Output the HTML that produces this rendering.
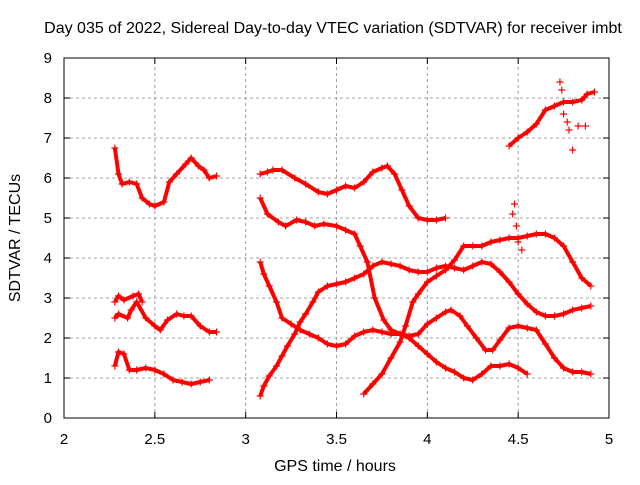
<!DOCTYPE html>
<html><head><meta charset="utf-8"><style>
body{margin:0;background:#fff;}
svg text{font-family:"Liberation Sans",sans-serif;font-size:15px;fill:#000;}
svg text.big{font-size:16px;}
</style></head><body>
<svg id="chart" width="640" height="480" xmlns="http://www.w3.org/2000/svg">
<rect width="640" height="480" fill="#fff"/>
<g id="grid"></g>
<g id="marks"></g>
<rect x="64" y="58" width="545" height="360" fill="none" stroke="#000" stroke-width="1"/>
<g id="ticks"></g>
<text class="big" x="333" y="33" text-anchor="middle">Day 035 of 2022, Sidereal Day-to-day VTEC variation (SDTVAR) for receiver imbt</text>
<text class="big" x="335" y="471" text-anchor="middle">GPS time / hours</text>
<text class="big" x="0" y="0" text-anchor="middle" transform="translate(20,238) rotate(-90)">SDTVAR / TECUs</text>
</svg>
<script>
const xTicks=[2,2.5,3,3.5,4,4.5,5];
const xTickLabels=["2","2.5","3","3.5","4","4.5","5"];
const yTicks=[0,1,2,3,4,5,6,7,8,9];
const yTickLabels=["0","1","2","3","4","5","6","7","8","9"];
const trackA=[[2.28,6.75],[2.3,6.1],[2.32,5.85],[2.36,5.9],[2.4,5.85],[2.43,5.5],[2.47,5.35],[2.5,5.3],[2.55,5.4],[2.58,5.9],[2.62,6.1],[2.67,6.35],[2.7,6.5],[2.74,6.3],[2.77,6.2],[2.8,6.0],[2.84,6.05]];
const trackB=[[2.28,2.5],[2.3,2.6],[2.35,2.5],[2.37,2.7],[2.4,2.9],[2.45,2.5],[2.5,2.3],[2.53,2.2],[2.57,2.45],[2.62,2.6],[2.66,2.55],[2.7,2.55],[2.75,2.3],[2.8,2.15],[2.84,2.15]];
const trackC=[[2.28,2.9],[2.3,3.05],[2.33,2.95],[2.38,3.05],[2.41,3.1],[2.43,2.9]];
const trackD=[[2.28,1.3],[2.3,1.65],[2.33,1.6],[2.36,1.2],[2.4,1.2],[2.45,1.25],[2.5,1.2],[2.55,1.1],[2.6,0.95],[2.65,0.9],[2.7,0.85],[2.75,0.9],[2.8,0.95]];
const trackE=[[3.08,6.1],[3.12,6.15],[3.15,6.2],[3.2,6.2],[3.27,6.0],[3.33,5.85],[3.4,5.65],[3.45,5.6],[3.5,5.7],[3.55,5.8],[3.6,5.75],[3.65,5.9],[3.7,6.15],[3.75,6.25],[3.78,6.3],[3.82,6.1],[3.86,5.7],[3.9,5.3],[3.95,5.0],[4.0,4.95],[4.05,4.95],[4.1,5.0]];
const trackF=[[3.08,5.5],[3.12,5.1],[3.18,4.9],[3.22,4.8],[3.28,4.95],[3.33,4.9],[3.38,4.8],[3.43,4.85],[3.5,4.8],[3.55,4.7],[3.6,4.6],[3.63,4.3],[3.67,3.9],[3.71,3.0],[3.76,2.45],[3.8,2.2],[3.85,2.1],[3.9,2.0],[3.95,1.8],[4.0,1.6],[4.05,1.4],[4.1,1.25],[4.15,1.15],[4.2,1.0],[4.25,0.95],[4.3,1.1],[4.35,1.3],[4.4,1.3],[4.45,1.35],[4.5,1.25],[4.55,1.1]];
const trackG=[[3.08,3.9],[3.1,3.6],[3.13,3.3],[3.17,2.9],[3.2,2.5],[3.25,2.35],[3.3,2.2],[3.35,2.1],[3.4,2.0],[3.45,1.85],[3.5,1.8],[3.55,1.85],[3.6,2.05],[3.65,2.15],[3.7,2.2],[3.75,2.15],[3.8,2.1],[3.85,2.1],[3.9,2.05],[3.95,2.1],[4.0,2.35],[4.05,2.5],[4.1,2.65],[4.13,2.7],[4.18,2.55],[4.22,2.3],[4.27,2.0],[4.32,1.7],[4.36,1.7],[4.4,1.95],[4.45,2.25],[4.5,2.3],[4.55,2.25],[4.6,2.2],[4.65,1.85],[4.7,1.5],[4.75,1.25],[4.8,1.15],[4.85,1.15],[4.9,1.1]];
const trackH=[[3.08,0.55],[3.1,0.8],[3.13,1.05],[3.17,1.3],[3.2,1.55],[3.23,1.8],[3.27,2.1],[3.3,2.4],[3.33,2.6],[3.37,2.9],[3.4,3.15],[3.45,3.3],[3.5,3.35],[3.55,3.4],[3.6,3.5],[3.65,3.6],[3.7,3.8],[3.75,3.9],[3.8,3.85],[3.85,3.8],[3.9,3.7],[3.95,3.65],[4.0,3.65],[4.05,3.75],[4.1,3.8],[4.15,3.75],[4.2,3.7],[4.25,3.8],[4.3,3.9],[4.35,3.85],[4.4,3.65],[4.45,3.4],[4.5,3.1],[4.55,2.85],[4.6,2.65],[4.65,2.55],[4.7,2.55],[4.75,2.6],[4.8,2.7],[4.85,2.75],[4.9,2.8]];
const trackI=[[3.65,0.6],[3.7,0.85],[3.75,1.1],[3.8,1.5],[3.85,1.9],[3.88,2.3],[3.92,2.9],[3.95,3.1],[4.0,3.4],[4.05,3.55],[4.1,3.7],[4.15,3.95],[4.2,4.3],[4.25,4.3],[4.3,4.3],[4.35,4.4],[4.4,4.45],[4.45,4.5],[4.5,4.5],[4.55,4.55],[4.6,4.6],[4.65,4.6],[4.7,4.5],[4.75,4.3],[4.8,3.9],[4.85,3.5],[4.9,3.3]];
const trackJ=[[4.45,6.8],[4.5,7.0],[4.55,7.15],[4.6,7.35],[4.65,7.7],[4.7,7.8],[4.75,7.9],[4.8,7.9],[4.85,7.95],[4.88,8.1],[4.92,8.15]];
const outliers=[[4.73,8.4],[4.74,8.2],[4.75,7.6],[4.77,7.4],[4.78,7.2],[4.8,6.7],[4.83,7.3],[4.87,7.3],[4.48,5.35],[4.47,5.1],[4.49,4.8],[4.5,4.4],[4.52,4.2]];
const tracks=[trackA,trackB,trackC,trackD,trackE,trackF,trackG,trackH,trackI,trackJ];

const NS="http://www.w3.org/2000/svg";
const X0=64,X1=609,Y0=418,Y1=58;
function sx(v){return X0+(v-2)/(5-2)*(X1-X0);}
function sy(v){return Y0-(v-0)/(9-0)*(Y0-Y1);}
function mk(tag,attrs,parent){const e=document.createElementNS(NS,tag);for(const k in attrs)e.setAttribute(k,attrs[k]);parent.appendChild(e);return e;}
const grid=document.getElementById('grid'),ticks=document.getElementById('ticks'),marks=document.getElementById('marks');
xTicks.forEach((t,i)=>{
  const x=sx(t);
  if(i>0&&i<xTicks.length-1){const g=mk('line',{x1:x,x2:x,y1:Y0,y2:Y1,stroke:'#a0a0a0','stroke-dasharray':'3,3'},grid);
  
  }
  mk('line',{x1:x,x2:x,y1:Y0,y2:Y0-6,stroke:'#000'},ticks);
  mk('line',{x1:x,x2:x,y1:Y1,y2:Y1+6,stroke:'#000'},ticks);
  const tx=mk('text',{x:x,y:Y0+26,'text-anchor':'middle'},ticks);tx.textContent=xTickLabels[i];
  
  
});
yTicks.forEach((t,i)=>{
  const y=sy(t);
  if(i>0&&i<yTicks.length-1){const g=mk('line',{x1:X0,x2:X1,y1:y,y2:y,stroke:'#a0a0a0','stroke-dasharray':'3,3'},grid);
  
  }
  mk('line',{x1:X0,x2:X0+6,y1:y,y2:y,stroke:'#000'},ticks);
  mk('line',{x1:X1,x2:X1-6,y1:y,y2:y,stroke:'#000'},ticks);
  const tx=mk('text',{x:X0-12,y:y+5,'text-anchor':'end'},ticks);tx.textContent=yTickLabels[i];
  
  
});
function plus(x,y){const p=mk('path',{d:`M${x-3.5},${y}H${x+3.5}M${x},${y-3.5}V${y+3.5}`,stroke:'#f00','stroke-width':1.2,fill:'none'},marks);
  
  }
tracks.forEach((tr)=>{
  const pl=mk('polyline',{points:tr.map(p=>sx(p[0])+','+sy(p[1])).join(' '),stroke:'#f00','stroke-width':4,fill:'none','stroke-linejoin':'round'},marks);
  
  
  tr.forEach(p=>plus(sx(p[0]),sy(p[1])));
});
outliers.forEach(p=>plus(sx(p[0]),sy(p[1])));
</script>
</body></html>
